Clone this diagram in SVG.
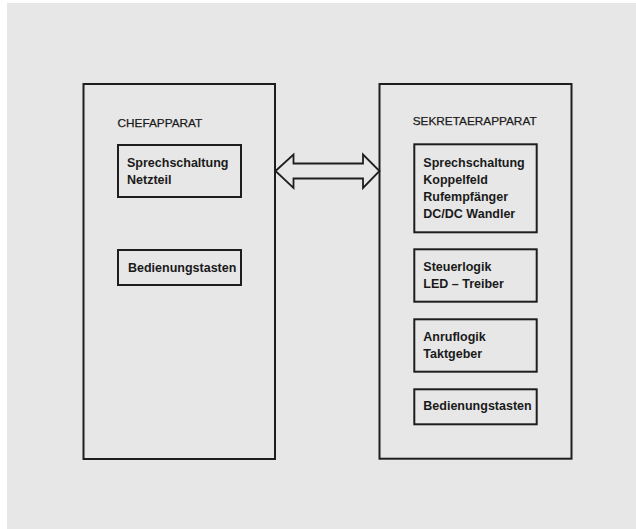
<svg xmlns="http://www.w3.org/2000/svg" width="636" height="529" viewBox="0 0 636 529">
  <style>
    .box { fill: none; stroke: #1e1e1e; stroke-width: 2; }
    .title { font-family: "Liberation Sans", Arial, sans-serif; font-size: 11.8px; fill: #1a1a1a; stroke: #1a1a1a; stroke-width: 0.25; }
    .lbl { font-family: "Liberation Sans", Arial, sans-serif; font-size: 12.5px; font-weight: bold; fill: #1a1a1a; }
    .conn { fill: none; stroke: #1e1e1e; stroke-width: 1.8; stroke-linejoin: miter; }
  </style>
  <rect x="0" y="0" width="636" height="529" fill="#ffffff"/>
  <rect x="7" y="3" width="629" height="526" fill="#e7e7e7"/>

  <g id="chefapparat">
    <rect class="box" x="83.5" y="84" width="191.5" height="375"/>
    <text class="title" x="117.5" y="127">CHEFAPPARAT</text>
  </g>
  <g id="chef-sprech">
    <rect class="box" x="118" y="145" width="123" height="52"/>
    <text class="lbl" x="127" y="167">Sprechschaltung</text>
    <text class="lbl" x="127" y="184">Netzteil</text>
  </g>
  <g id="chef-tasten">
    <rect class="box" x="118" y="250" width="123" height="35"/>
    <text class="lbl" x="128" y="272">Bedienungstasten</text>
  </g>

  <g id="sekretaerapparat">
    <rect class="box" x="379.5" y="84" width="192" height="374.7"/>
    <text class="title" x="412.7" y="125">SEKRETAERAPPARAT</text>
  </g>
  <g id="sek-sprech">
    <rect class="box" x="414.3" y="144.3" width="122.4" height="88"/>
    <text class="lbl" x="423.3" y="166.7">Sprechschaltung</text>
    <text class="lbl" x="423.3" y="183.6">Koppelfeld</text>
    <text class="lbl" x="423.3" y="200.7">Rufempfänger</text>
    <text class="lbl" x="423.3" y="218.3">DC/DC Wandler</text>
  </g>
  <g id="sek-steuer">
    <rect class="box" x="414.3" y="249.3" width="122.4" height="52.4"/>
    <text class="lbl" x="423.3" y="270.7">Steuerlogik</text>
    <text class="lbl" x="423.3" y="288.3">LED – Treiber</text>
  </g>
  <g id="sek-anruf">
    <rect class="box" x="414.3" y="319.3" width="122.4" height="52.4"/>
    <text class="lbl" x="423.3" y="341">Anruflogik</text>
    <text class="lbl" x="423.3" y="358.3">Taktgeber</text>
  </g>
  <g id="sek-tasten">
    <rect class="box" x="414.3" y="389.3" width="122.4" height="35"/>
    <text class="lbl" x="423.3" y="410">Bedienungstasten</text>
  </g>

  <g id="connectors">
    <polygon class="conn" points="275.5,171 293.5,154.5 293.5,163.5 363,163.5 363,154.5 379.5,171 363,188 363,178.5 293.5,178.5 293.5,188"/>
  </g>
</svg>
